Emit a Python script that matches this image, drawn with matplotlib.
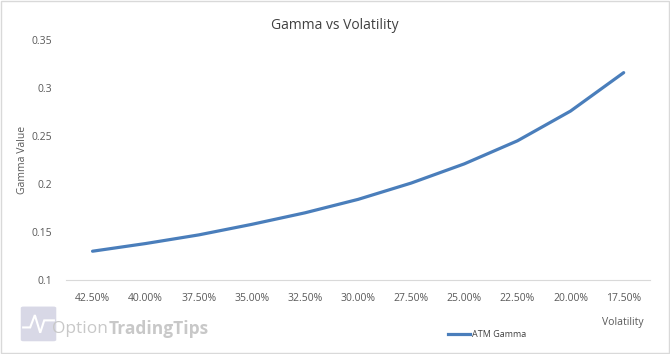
import matplotlib.pyplot as plt
from matplotlib.patches import FancyBboxPatch, Polygon
from matplotlib.lines import Line2D

plt.rcParams['font.family'] = ['Open Sans', 'DejaVu Sans']

# ---- data ----
vol_labels = ["42.50%", "40.00%", "37.50%", "35.00%", "32.50%", "30.00%",
              "27.50%", "25.00%", "22.50%", "20.00%", "17.50%"]
atm_gamma = [0.130, 0.138, 0.147, 0.158, 0.170, 0.184,
             0.201, 0.221, 0.245, 0.276, 0.316]
y_ticks = [0.1, 0.15, 0.2, 0.25, 0.3, 0.35]
y_tick_labels = ["0.1", "0.15", "0.2", "0.25", "0.3", "0.35"]

grey = "#595959"
blue = "#4a7ebb"

fig = plt.figure(figsize=(6.7, 3.54), dpi=100)
ax = fig.add_axes([0.0985, 0.209, 0.872, 0.678])

x = range(len(vol_labels))
ax.plot(x, atm_gamma, color=blue, linewidth=2.3, solid_capstyle="round")

ax.set_xlim(-0.5, len(vol_labels) - 0.5)
ax.set_ylim(0.1, 0.35)
ax.set_xticks(list(x))
ax.set_xticklabels(vol_labels)
ax.set_yticks(y_ticks)
ax.set_yticklabels(y_tick_labels)
ax.tick_params(axis="both", length=0, labelsize=7.5, colors=grey, pad=9)
ax.tick_params(axis="y", pad=10)

for side in ["top", "right", "left"]:
    ax.spines[side].set_visible(False)
ax.spines["bottom"].set_color("#d9d9d9")
ax.spines["bottom"].set_linewidth(0.8)

fig.text(0.5, 0.927, "Gamma vs Volatility", fontsize=10, color="#404040",
         ha="center", va="center")
fig.text(0.034, 0.548, "Gamma Value", fontsize=7.5, color=grey,
         rotation=90, ha="center", va="center")
fig.text(0.96, 0.09, "Volatility", fontsize=7.5, color=grey, ha="right", va="center")

# ---- legend ----
handle = Line2D([], [], color=blue, linewidth=2.3)
fig.legend([handle], ["ATM Gamma"], loc="center", bbox_to_anchor=(0.727, 0.054),
           frameon=False, fontsize=6.5, handlelength=2.4, handletextpad=0.2,
           labelcolor="#404040")

# ---- watermark ----
fig.patches.append(FancyBboxPatch((0.035, 0.04), 0.045, 0.09,
                                  boxstyle="round,pad=0.004",
                                  transform=fig.transFigure,
                                  facecolor="#d8d8e6", edgecolor="none", zorder=0))
fig.patches.append(Polygon([[0.033, 0.075], [0.045, 0.075], [0.052, 0.11],
                            [0.06, 0.06], [0.066, 0.095], [0.082, 0.095]],
                           closed=False, fill=False, transform=fig.transFigure,
                           edgecolor="white", linewidth=1.5))
t1 = fig.text(0.078, 0.072, "Option", fontsize=12.5, color="#c8c8c8", va="center")
fig.canvas.draw()
bb = t1.get_window_extent().transformed(fig.transFigure.inverted())
fig.text(bb.x1, 0.072, "TradingTips", fontsize=12.5, color="#c8c8c8", va="center",
         fontweight="bold")

# ---- outer border ----
fig.patches.append(plt.Rectangle((0.001, 0.002), 0.997, 0.995, transform=fig.transFigure,
                                 fill=False, edgecolor="#d9d9d9", linewidth=1))

fig.savefig("out.png", dpi=100)
plt.close(fig)
